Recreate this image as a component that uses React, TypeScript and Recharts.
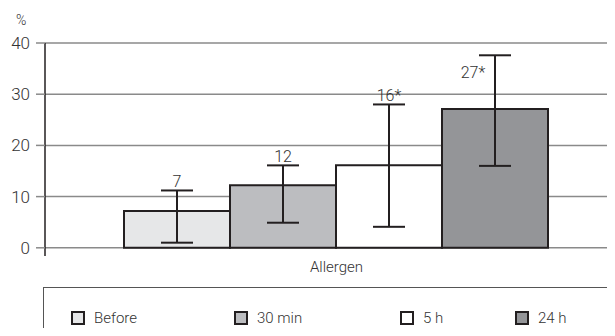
import React from 'react';
import { BarChart, Bar, XAxis, YAxis, CartesianGrid, ErrorBar, Legend } from 'recharts';

const categories = ['Allergen'];
const seriesNames = ['Before', '30 min', '5 h', '24 h'];
const seriesKeys = ['before', 'min30', 'h5', 'h24'];
const seriesValues = [7.2, 12.2, 16.1, 27.1];
const errLow = [1.0, 4.9, 4.1, 16.0];
const errHigh = [11.2, 16.1, 28.0, 37.6];
const valueLabels = ['7', '12', '16*', '27*'];
const seriesFills = ['#e6e7e8', '#bcbdc0', '#ffffff', '#949598'];
const yTicks = [0, 10, 20, 30, 40];

const FONT = "Roboto, 'Liberation Sans', Arial, sans-serif";
const FW = 300;
const DARK = '#231f20';
const TEXT = '#333333';

const row: Record<string, any> = { name: categories[0] };
seriesKeys.forEach((k, i) => {
  row[k] = seriesValues[i];
  row[k + 'Err'] = [seriesValues[i] - errLow[i], errHigh[i] - seriesValues[i]];
});
const data = [row];

const makeLabel = (i: number) => (props: any) => {
  const { x, y, width, height, value } = props;
  const bottom = y + height;
  const pxPerUnit = height / value;
  const errTop = bottom - errHigh[i] * pxPerUnit;
  const special = i === 3;
  const cx = x + width / 2 + (special ? -22 : 0);
  const ty = special ? errTop + 23 : errTop - 3;
  return (
    <text x={cx} y={ty} textAnchor="middle" fontSize={16} fontWeight={FW} fontFamily={FONT} fill={TEXT}>
      {valueLabels[i]}
    </text>
  );
};

const LegendBox = () => (
  <div
    style={{
      position: 'relative',
      width: 600,
      height: 60,
      border: '1px solid #555',
      boxSizing: 'border-box',
      fontFamily: FONT,
      fontWeight: FW,
      fontSize: 15,
      color: TEXT,
    }}
  >
    {seriesNames.map((n, i) => {
      const lefts = [27, 190, 356, 471];
      return (
        <div key={n} style={{ position: 'absolute', left: lefts[i], top: 21, display: 'flex', alignItems: 'center' }}>
          <span
            style={{
              display: 'inline-block',
              width: 10,
              height: 10,
              border: `2px solid ${DARK}`,
              background: seriesFills[i],
              marginRight: 9,
            }}
          />
          <span>{n}</span>
        </div>
      );
    })}
  </div>
);

export default function App() {
  return (
    <div style={{ margin: -8, width: 615, height: 336, overflow: 'hidden', position: 'relative', background: '#fff' }}>
      <BarChart
        width={628}
        height={336}
        data={data}
        margin={{ top: 43, right: 0, bottom: 60, left: 0 }}
        barGap={0}
        barCategoryGap={79}
      >
        <CartesianGrid vertical={false} stroke="#8a8a8a" strokeWidth={1.5} horizontalValues={yTicks} />
        <XAxis
          dataKey="name"
          height={20}
          axisLine={false}
          tickLine={false}
          tickSize={0}
          tickMargin={5}
          tick={{ fontSize: 15, fontFamily: FONT, fontWeight: FW, fill: TEXT }}
        />
        <YAxis
          width={45}
          domain={[-1.6, 40]}
          ticks={yTicks}
          allowDataOverflow
          axisLine={{ stroke: DARK, strokeWidth: 1.5 }}
          tickLine={{ stroke: '#8a8a8a', strokeWidth: 1.5 }}
          tickSize={9}
          tickMargin={6}
          tick={{ fontSize: 17, fontFamily: FONT, fontWeight: FW, fill: TEXT }}
          label={{
            content: () => (
              <text x={16} y={25} fontSize={14} fontFamily={FONT} fontWeight={FW} fill={TEXT}>
                %
              </text>
            ),
          }}
        />
        <Legend
          layout="horizontal"
          verticalAlign="middle"
          align="center"
          wrapperStyle={{ top: 287, left: 43, width: 600, height: 60 }}
          content={() => <LegendBox />}
        />
        {seriesKeys.map((k, i) => (
          <Bar
            key={k}
            dataKey={k}
            name={seriesNames[i]}
            fill={seriesFills[i]}
            stroke={DARK}
            strokeWidth={2}
            isAnimationActive={false}
            label={makeLabel(i)}
          >
            <ErrorBar dataKey={k + 'Err'} direction="y" width={16} stroke={DARK} strokeWidth={2} />
          </Bar>
        ))}
      </BarChart>
    </div>
  );
}
